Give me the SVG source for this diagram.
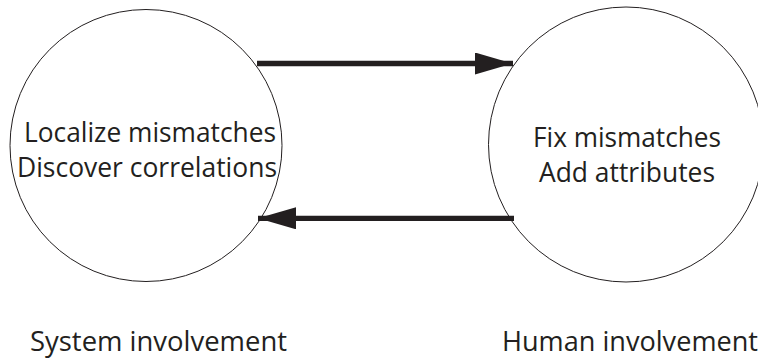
<svg xmlns="http://www.w3.org/2000/svg" width="758" height="358" viewBox="0 0 758 358">
  <style>
    .node { fill: #ffffff; stroke: #231f20; stroke-width: 1; }
    .label { font-family: "Open Sans", "Liberation Sans", sans-serif; font-size: 27px; fill: #231f20; }
    .link { stroke: #231f20; stroke-width: 5.3; fill: none; }
  </style>
  <defs>
    <marker id="head" markerUnits="userSpaceOnUse" markerWidth="40" markerHeight="24" refX="38" refY="11" orient="auto">
      <path d="M0,0 L38,11 L0,22 Z" fill="#231f20"/>
    </marker>
  </defs>

  <rect width="758" height="358" fill="#ffffff"/>

  <!-- left process: automatic steps -->
  <g id="system">
    <circle class="node" cx="146" cy="145.5" r="136"/>
    <text class="label" x="24" y="142" textLength="252" lengthAdjust="spacingAndGlyphs">Localize mismatches</text>
    <text class="label" x="17" y="177" textLength="260" lengthAdjust="spacingAndGlyphs">Discover correlations</text>
  </g>

  <!-- right process: manual steps -->
  <g id="human">
    <circle class="node" cx="626" cy="144.5" r="137.5"/>
    <text class="label" x="533" y="147" textLength="188" lengthAdjust="spacingAndGlyphs">Fix mismatches</text>
    <text class="label" x="539" y="182" textLength="176" lengthAdjust="spacingAndGlyphs">Add attributes</text>
  </g>

  <g id="connectors">
    <line class="link" x1="257" y1="63.5" x2="513" y2="63.5" marker-end="url(#head)"/>
    <line class="link" x1="514" y1="218.3" x2="258" y2="218.3" marker-end="url(#head)"/>
  </g>

  <g id="captions">
    <text class="label" x="30" y="350.5" textLength="257" lengthAdjust="spacingAndGlyphs">System involvement</text>
    <text class="label" x="502" y="350.5" textLength="256" lengthAdjust="spacingAndGlyphs">Human involvement</text>
  </g>
</svg>
